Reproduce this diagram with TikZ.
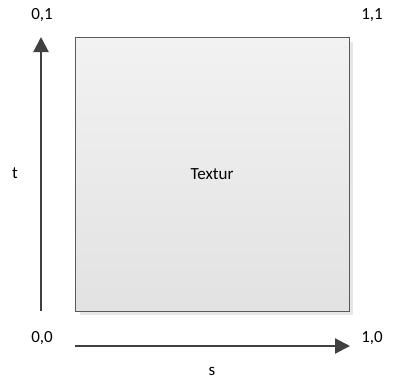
\documentclass[tikz,border=0pt]{standalone}
\usepackage{fontspec}
\setmainfont{Carlito}
\usetikzlibrary{arrows.meta}
\definecolor{linegray}{HTML}{595959}
\definecolor{arrowgray}{HTML}{404040}
\definecolor{topfill}{HTML}{F2F2F2}
\definecolor{botfill}{HTML}{E2E2E2}
\definecolor{shadowgray}{HTML}{E6E6E6}
\tikzset{
  lbl/.style={font=\fontsize{17}{20}\selectfont, text=black, inner sep=0pt},
  axis/.style={draw=arrowgray, line width=2.2pt, -{Triangle[length=15pt,width=15pt]}},
  texbox/.style={draw=linegray, line width=1pt, top color=topfill, bottom color=botfill, minimum width=274pt, minimum height=274pt, inner sep=0pt, font=\fontsize{17}{20}\selectfont}
}
\begin{document}
\begin{tikzpicture}[x=1pt,y=-1pt]
\useasboundingbox (0,0) rectangle (398,378);
\fill[shadowgray] (80,42) rectangle (353,315);
\node[texbox] (tex) at (212,174) {Textur};
\coordinate (vb) at (41,311);
\coordinate (vt) at (41,37);
\coordinate (hl) at (75,346);
\coordinate (hr) at (350,346);
\draw[axis] (vb) -- (vt);
\draw[axis] (hl) -- (hr);
\node[lbl] (l01) at (42,15) {0,1};
\node[lbl] (l11) at (372,15) {1,1};
\node[lbl] (l00) at (42,338) {0,0};
\node[lbl] (l10) at (372,338) {1,0};
\node[lbl] (lt) at (15,173) {t};
\node[lbl] (ls) at (212,371) {s};
\end{tikzpicture}
\end{document}
